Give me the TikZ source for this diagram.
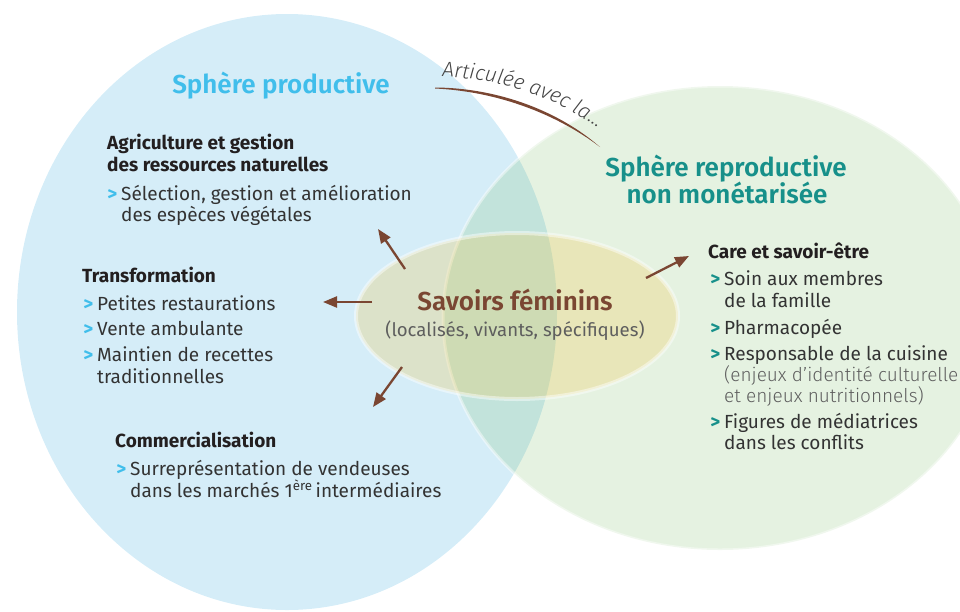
\documentclass[tikz,border=0pt]{standalone}
\usepackage{fontspec}
\setmainfont{Fira Sans}
\IfFontExistsTF{Fira Sans Light}{\newfontfamily\flight{Fira Sans Light}}{\newfontfamily\flight{Fira Sans}}
\IfFontExistsTF{Fira Sans SemiBold}{\newfontfamily\fsemi{Fira Sans SemiBold}}{\newfontfamily\fsemi[FakeBold=0]{Fira Sans}\renewcommand*{\fsemi}{\bfseries}}
\usetikzlibrary{arrows.meta,decorations.text}
\definecolor{blueF}{HTML}{D5EDF8}
\definecolor{greenB}{HTML}{66B34F}
\definecolor{yelB}{HTML}{F0C850}
\definecolor{titleBlue}{HTML}{40BEEB}
\definecolor{titleTeal}{HTML}{17908A}
\definecolor{brownC}{HTML}{7A4632}
\definecolor{bodyC}{HTML}{333333}
\definecolor{headC}{HTML}{231F20}
\definecolor{parC}{HTML}{5E5E5E}
\definecolor{artC}{HTML}{444444}
\begin{document}
\begin{tikzpicture}[x=1pt,y=-1pt,
  line/.style={anchor=base west, inner sep=0pt, font=\fontsize{19}{21}\selectfont, text=bodyC},
  head/.style={anchor=base west, inner sep=0pt, font=\fontsize{19}{21}\selectfont\bfseries, text=headC},
  paren/.style={anchor=base west, inner sep=0pt, font=\fontsize{19}{21}\selectfont\flight, text=parC},
  title/.style={anchor=base, inner sep=0pt, font=\fontsize{26}{30}\selectfont\fsemi},
  arr/.style={draw=brownC, line width=2.3pt, -{Triangle[length=14pt,width=11pt]}},
]
\newcommand{\bb}{\llap{\textcolor{titleBlue}{\bfseries >}\hspace{4pt}}}
\newcommand{\bt}{\llap{\textcolor{titleTeal}{\bfseries >}\hspace{4pt}}}
\useasboundingbox (0,0) rectangle (960,611);
\begin{scope}
\clip (0,0) rectangle (960,611);
\fill[blueF] (287,312) ellipse [x radius=270pt, y radius=298pt];
\fill[greenB, opacity=0.17] (720,318) ellipse [x radius=277pt, y radius=232pt];
\draw[white, opacity=0.45, line width=3pt] (720,318) ellipse [x radius=277pt, y radius=232pt];
\fill[yelB, opacity=0.28] (517,316) ellipse [x radius=161pt, y radius=83pt];
\draw[white, opacity=0.45, line width=4pt] (517,316) ellipse [x radius=161pt, y radius=83pt];
\end{scope}

% link arc and label
\fill[brownC] (435,87.5) .. controls (500,88) and (560,112) .. (600,147)
  .. controls (558,115) and (499,91.5) .. (435,88.5) -- cycle;
\path[decorate, decoration={text along path, text align=left,
  text={|\fontsize{21}{21}\selectfont\flight\itshape\color{artC}|Articulée avec la…}}]
  (442,77) .. controls (500,78) and (560,98) .. (606,134);

% titles
\node[title, text=titleBlue] (sp) at (281,93) {Sphère productive};
\node[title, text=titleTeal] (sr1) at (726,176) {Sphère reproductive};
\node[title, text=titleTeal] (sr2) at (727,203) {non monétarisée};

% centre
\node[anchor=base, inner sep=0pt, font=\fontsize{26}{30}\selectfont\fsemi, text=brownC] (sav) at (515,310) {Savoirs féminins};
\node[anchor=base, inner sep=0pt, font=\fontsize{18.6}{21}\selectfont, text=parC] (savp) at (515,336) {(localisés, vivants, spécifiques)};

% Agriculture
\node[head] (a1) at (107,149) {Agriculture et gestion};
\node[head] (a2) at (107,171) {des ressources naturelles};
\node[line] (a3) at (121,200) {\bb Sélection, gestion et amélioration};
\node[line] (a4) at (121,221) {des espèces végétales};

% Transformation
\node[head] (t1) at (82,282) {Transformation};
\node[line] (t2) at (97,310) {\bb Petites restaurations};
\node[line] (t3) at (97,335) {\bb Vente ambulante};
\node[line] (t4) at (97,361) {\bb Maintien de recettes};
\node[line] (t5) at (97,383) {traditionnelles};

% Commercialisation
\node[head] (k1) at (115,447) {Commercialisation};
\node[line] (k2) at (130,475) {\bb Surreprésentation de vendeuses};
\node[line] (k3) at (130,497) {dans les marchés 1\textsuperscript{ère}\,intermédiaires};

% Care
\node[head] (r1) at (708,258) {Care et savoir-être};
\node[line] (r2) at (724,285) {\bt Soin aux membres};
\node[line] (r3) at (724,307) {de la famille};
\node[line] (r4) at (724,334) {\bt Pharmacopée};
\node[line] (r5) at (724,360) {\bt Responsable de la cuisine};
\node[paren] (r6) at (724,381) {(enjeux d’identité culturelle};
\node[paren] (r7) at (724,402) {et enjeux nutritionnels)};
\node[line] (r8) at (724,428) {\bt Figures de médiatrices};
\node[line] (r9) at (724,449) {dans les conflits};

% arrows
\coordinate (c1t) at (405,269); \coordinate (c1h) at (378,229);
\coordinate (c2t) at (372,302); \coordinate (c2h) at (323,302);
\coordinate (c3t) at (402,367); \coordinate (c3h) at (373,407);
\coordinate (c4t) at (646,278); \coordinate (c4h) at (689,256);
\draw[arr] (c1t) -- (c1h);
\draw[arr] (c2t) -- (c2h);
\draw[arr] (c3t) -- (c3h);
\draw[arr] (c4t) -- (c4h);
\end{tikzpicture}
\end{document}
